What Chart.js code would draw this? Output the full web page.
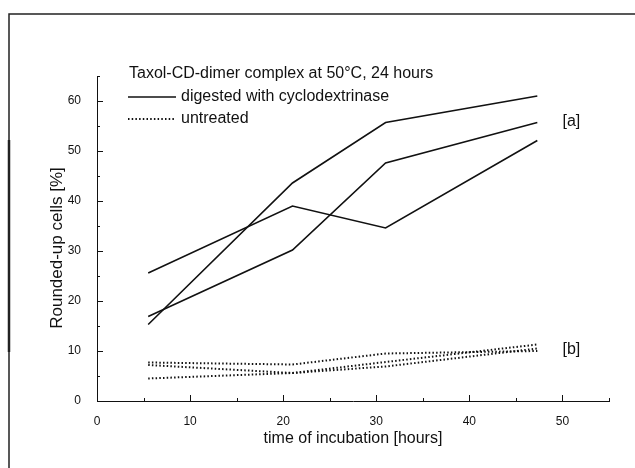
<!DOCTYPE html>
<html>
<head>
<meta charset="utf-8">
<script src="https://cdn.jsdelivr.net/npm/chart.js@4.4.1/dist/chart.umd.min.js"></script>
<style>
  body { margin: 0; background: #fff; }
  canvas { display: block; }
</style>
</head>
<body>
<canvas id="incubation-chart" width="635" height="468"></canvas>
<script>
// hours at which cells were counted
const timePoints = [5.5, 21, 31, 47.3];

// [a] digested with cyclodextrinase, three runs
const digestedRun1 = [15.3, 43.6, 55.7, 61.0];
const digestedRun2 = [25.6, 39.0, 34.6, 52.1];
const digestedRun3 = [16.9, 30.2, 47.6, 55.7];

// [b] untreated, three runs
const untreatedRun1 = [7.7, 7.3, 9.5, 10.0];
const untreatedRun2 = [7.2, 5.6, 7.8, 11.3];
const untreatedRun3 = [4.5, 5.6, 6.9, 10.5];

const xTickValues = [0, 10, 20, 30, 40, 50];
const yTickValues = [0, 10, 20, 30, 40, 50, 60];

const ink = '#111';
const fontFamily = '"Liberation Sans", Arial, sans-serif';

function toPoints(values) {
    return values.map((v, i) => ({ x: timePoints[i], y: v }));
}

function solid(values) {
    return {
        data: toPoints(values),
        borderColor: ink,
        borderWidth: 1.6,
        pointRadius: 0,
        tension: 0
    };
}

function dotted(values) {
    return {
        data: toPoints(values),
        borderColor: ink,
        borderWidth: 2,
        borderDash: [1.5, 2.2],
        pointRadius: 0,
        tension: 0
    };
}

// tick marks pointing into the plot, with minor ticks every 5
const innerTicks = {
    id: 'innerTicks',
    afterDatasetsDraw(chart) {
        const { ctx, chartArea, scales: { x, y } } = chart;
        ctx.save();
        ctx.strokeStyle = ink;
        ctx.lineWidth = 1;
        for (let v = 0; v <= x.max; v += 5) {
            const px = Math.round(x.getPixelForValue(v)) + 0.5;
            const len = v % 10 === 0 ? 6 : 3;
            ctx.beginPath();
            ctx.moveTo(px, chartArea.bottom);
            ctx.lineTo(px, chartArea.bottom - len);
            ctx.stroke();
        }
        for (let v = 0; v <= y.max; v += 5) {
            const py = Math.round(y.getPixelForValue(v)) + 0.5;
            const len = v % 10 === 0 ? 6 : 3;
            ctx.beginPath();
            ctx.moveTo(chartArea.left, py);
            ctx.lineTo(chartArea.left + len, py);
            ctx.stroke();
        }
        ctx.restore();
    }
};

// in-plot legend, [a]/[b] labels, y title and the page frame
const annotations = {
    id: 'annotations',
    beforeDraw(chart) {
        const { ctx } = chart;
        ctx.save();
        ctx.strokeStyle = '#222';
        ctx.lineWidth = 1.5;
        ctx.beginPath();
        ctx.moveTo(9, 468);
        ctx.lineTo(9, 14);
        ctx.lineTo(635, 14);
        ctx.stroke();
        ctx.lineWidth = 2.5;
        ctx.beginPath();
        ctx.moveTo(9, 140);
        ctx.lineTo(9, 352);
        ctx.stroke();
        ctx.restore();
    },
    afterDraw(chart) {
        const { ctx, scales: { x } } = chart;
        ctx.save();
        ctx.fillStyle = ink;
        ctx.strokeStyle = ink;
        ctx.font = '16px ' + fontFamily;
        ctx.textBaseline = 'middle';
        ctx.textAlign = 'left';
        ctx.fillText('Taxol-CD-dimer complex at 50°C, 24 hours', 129, 74);

        ctx.lineWidth = 1.6;
        ctx.beginPath();
        ctx.moveTo(128, 97);
        ctx.lineTo(176, 97);
        ctx.stroke();
        ctx.fillText('digested with cyclodextrinase', 181, 97);

        ctx.lineWidth = 2;
        ctx.setLineDash([1.5, 2.2]);
        ctx.beginPath();
        ctx.moveTo(128, 119);
        ctx.lineTo(176, 119);
        ctx.stroke();
        ctx.setLineDash([]);
        ctx.fillText('untreated', 181, 119);

        const labelX = x.getPixelForValue(50);
        ctx.fillText('[a]', labelX, 122);
        ctx.fillText('[b]', labelX, 350);

        ctx.translate(57, 248);
        ctx.rotate(-Math.PI / 2);
        ctx.textAlign = 'center';
        ctx.font = '17px ' + fontFamily;
        ctx.fillText('Rounded-up cells [%]', 0, 0);
        ctx.restore();
    }
};

document.addEventListener('DOMContentLoaded', function () {
    const canvas = document.getElementById('incubation-chart');

    new Chart(canvas, {
        type: 'line',
        data: {
            datasets: [
                solid(digestedRun1),
                solid(digestedRun2),
                solid(digestedRun3),
                dotted(untreatedRun1),
                dotted(untreatedRun2),
                dotted(untreatedRun3)
            ]
        },
        options: {
            responsive: false,
            animation: false,
            layout: {
                padding: { left: 0, top: 76, right: 26, bottom: 0 }
            },
            plugins: {
                legend: { display: false },
                tooltip: { enabled: false }
            },
            scales: {
                x: {
                    type: 'linear',
                    min: 0,
                    max: 55,
                    grid: { display: false },
                    border: { display: true, color: ink, width: 1 },
                    afterBuildTicks: scale => {
                        scale.ticks = xTickValues.map(v => ({ value: v }));
                    },
                    afterFit: scale => { scale.height = 67; },
                    ticks: {
                        color: ink,
                        padding: 5,
                        maxRotation: 0,
                        font: { family: fontFamily, size: 12 }
                    },
                    title: {
                        display: true,
                        text: 'time of incubation [hours]',
                        color: ink,
                        padding: { top: 0, bottom: 20 },
                        font: { family: fontFamily, size: 16 }
                    }
                },
                y: {
                    min: 0,
                    max: 65,
                    grid: { display: false },
                    border: { display: true, color: ink, width: 1 },
                    afterBuildTicks: scale => {
                        scale.ticks = yTickValues.map(v => ({ value: v }));
                    },
                    afterFit: scale => { scale.width = 97; },
                    ticks: {
                        color: ink,
                        padding: 8,
                        font: { family: fontFamily, size: 12 }
                    }
                }
            }
        },
        plugins: [innerTicks, annotations]
    });
});
</script>
</body>
</html>
